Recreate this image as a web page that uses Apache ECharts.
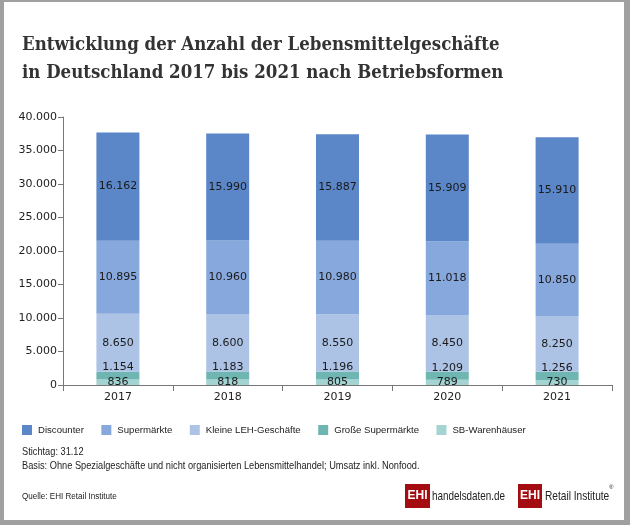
<!DOCTYPE html>
<html>
<head>
<meta charset="utf-8">
<script src="https://cdn.jsdelivr.net/npm/echarts@6/dist/echarts.min.js"></script>
<style>
html,body{margin:0;padding:0;background:#a0a0a0;}
#c{width:630px;height:525px;}
</style>
</head>
<body>
<div id="c"></div>
<script>
const years = ['2017', '2018', '2019', '2020', '2021'];
const discounter = [16162, 15990, 15887, 15909, 15910];
const supermaerkte = [10895, 10960, 10980, 11018, 10850];
const kleineLEH = [8650, 8600, 8550, 8450, 8250];
const grosseSuper = [1154, 1183, 1196, 1209, 1256];
const sbWarenhaeuser = [836, 818, 805, 789, 730];
const yTicks = [0, 5000, 10000, 15000, 20000, 25000, 30000, 35000, 40000];

const fmt = v => String(v).replace(/\B(?=(\d{3})+(?!\d))/g, '.');
const sans = '"Liberation Sans", Arial, sans-serif';

const chart = echarts.init(document.getElementById('c'));
function mk(name, data, color, labelOffset) {
  return {
    name: name, type: 'bar', stack: 'total', data: data, barWidth: 43,
    itemStyle: { color: color },
    label: {
      show: true, position: 'inside', offset: labelOffset || [0, 0],
      formatter: p => fmt(p.value),
      fontFamily: 'DejaVu Sans', fontSize: 11, color: '#1a1a1a'
    },
    emphasis: { disabled: true }
  };
}
chart.setOption({
  animation: false,
  backgroundColor: '#a0a0a0',
  graphic: [
    { type: 'rect', z: -10, shape: { x: 4, y: 2, width: 620, height: 518 }, style: { fill: '#ffffff' } },
    { type: 'text', x: 22, y: 45, scaleX: 0.875, style: {
        text: 'Entwicklung der Anzahl der Lebensmittelgeschäfte', verticalAlign: 'middle',
        font: 'bold 19px "DejaVu Serif", serif', fill: '#333' } },
    { type: 'text', x: 22, y: 73, scaleX: 0.875, style: {
        text: 'in Deutschland 2017 bis 2021 nach Betriebsformen', verticalAlign: 'middle',
        font: 'bold 19px "DejaVu Serif", serif', fill: '#333' } },
    { type: 'text', x: 22, y: 452, scaleX: 0.88, style: { text: 'Stichtag: 31.12', verticalAlign: 'middle', font: '10.5px ' + sans, fill: '#222' } },
    { type: 'text', x: 22, y: 466, scaleX: 0.88, style: { text: 'Basis: Ohne Spezialgeschäfte und nicht organisierten Lebensmittelhandel; Umsatz inkl. Nonfood.', verticalAlign: 'middle', font: '10.5px ' + sans, fill: '#222' } },
    { type: 'text', x: 22, y: 497, scaleX: 0.95, style: { text: 'Quelle: EHI Retail Institute', verticalAlign: 'middle', font: '8.5px ' + sans, fill: '#222' } },
    { type: 'rect', shape: { x: 405, y: 484, width: 25, height: 24 }, style: { fill: '#a30d12' } },
    { type: 'text', x: 417.5, y: 496, style: { text: 'EHI', font: 'bold 12px ' + sans, fill: '#fff', align: 'center', verticalAlign: 'middle' } },
    { type: 'text', x: 432, y: 496, scaleX: 0.76, style: {
        text: '{a|handelsdaten}{b|.}{a|de}', verticalAlign: 'middle',
        rich: { a: { font: '13px ' + sans, fill: '#222', color: '#222' }, b: { font: '13px ' + sans, color: '#c00000' } } } },
    { type: 'rect', shape: { x: 518, y: 484, width: 24, height: 24 }, style: { fill: '#a30d12' } },
    { type: 'text', x: 530, y: 496, style: { text: 'EHI', font: 'bold 12px ' + sans, fill: '#fff', align: 'center', verticalAlign: 'middle' } },
    { type: 'text', x: 545, y: 496, scaleX: 0.78, style: { text: 'Retail Institute', font: '13px ' + sans, fill: '#222', verticalAlign: 'middle' } },
    { type: 'text', x: 609, y: 484, style: { text: '®', font: '6px ' + sans, fill: '#222' } }
  ],
  legend: {
    data: ['Discounter', 'Supermärkte', 'Kleine LEH-Geschäfte', 'Große Supermärkte', 'SB-Warenhäuser'],
    left: 17, top: 420, itemWidth: 10, itemHeight: 10, itemGap: 17.5, icon: 'rect',
    textStyle: { fontFamily: sans, fontSize: 9.6, color: '#222', padding: [0, 0, 0, 1] }
  },
  grid: { left: 63, right: 18, top: 117, bottom: 140 },
  xAxis: {
    type: 'category', data: years,
    axisLine: { lineStyle: { color: '#777' } },
    axisTick: { show: true, length: 6, lineStyle: { color: '#777' } },
    axisLabel: { fontFamily: 'DejaVu Sans', fontSize: 11, color: '#222', margin: 7 }
  },
  yAxis: {
    type: 'value', min: 0, max: 40000, interval: 5000,
    axisLine: { show: true, lineStyle: { color: '#777' } },
    axisTick: { show: true, length: 5, lineStyle: { color: '#777' } },
    splitLine: { show: false },
    axisLabel: { fontFamily: 'DejaVu Sans', fontSize: 11, color: '#222', margin: 6,
      formatter: v => yTicks.indexOf(v) >= 0 ? fmt(v) : '' }
  },
  series: [
    mk('SB-Warenhäuser', sbWarenhaeuser, '#a4d4d2'),
    mk('Große Supermärkte', grosseSuper, '#6fb6b3', [0, -8]),
    mk('Kleine LEH-Geschäfte', kleineLEH, '#adc3e6'),
    mk('Supermärkte', supermaerkte, '#87a8dc'),
    mk('Discounter', discounter, '#5b86c8')
  ]
});
</script>
</body>
</html>
